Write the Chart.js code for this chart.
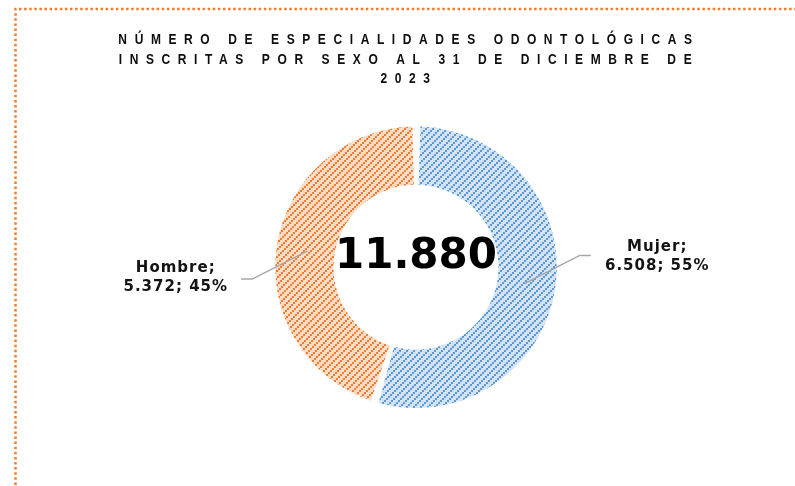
<!DOCTYPE html>
<html>
<head>
<meta charset="utf-8">
<script src="https://cdn.jsdelivr.net/npm/chart.js@4.4.1/dist/chart.umd.min.js"></script>
<style>
html,body{margin:0;padding:0;background:#fff;}
#wrap{width:795px;height:486px;position:relative;}
</style>
</head>
<body>
<div id="wrap"><canvas id="c" width="795" height="486"></canvas></div>
<script>
// ---- data ----
const categories = ['Mujer', 'Hombre'];
const values = [6508, 5372];
const titleLines = [
  'NÚMERO DE ESPECIALIDADES ODONTOLÓGICAS',
  'INSCRITAS POR SEXO AL 31 DE DICIEMBRE DE',
  '2023'
];

// ---- styles ----
const lightColors = ['#d3e3f5', '#fcdcc5'];
const darkColors = ['#5b9bd5', '#ef7d31'];

function fmt(n) {
  return String(n).replace(/\B(?=(\d{3})+(?!\d))/g, '.');
}
function makePattern(light, dark) {
  const c = document.createElement('canvas');
  c.width = 14; c.height = 14;
  const g = c.getContext('2d');
  g.fillStyle = light; g.fillRect(0, 0, 14, 14);
  g.fillStyle = dark;
  for (let y = 0; y < 14; y++) {
    const r = Math.floor(y / 2);
    for (let x = 0; x < 14; x++) {
      const m = (x + 2 * r) % 7;
      if (m === 0 || m === 1) g.fillRect(x, y, 1, 1);
    }
  }
  return g.createPattern(c, 'repeat');
}
const patterns = categories.map((_, i) => makePattern(lightColors[i], darkColors[i]));
const total = values.reduce((a, b) => a + b, 0);

const TITLE_SX = 0.8;

const framePlugin = {
  id: 'frameAndTitle',
  beforeDraw(chart) {
    const ctx = chart.ctx;
    ctx.save();
    ctx.strokeStyle = '#ed7d31';
    ctx.lineWidth = 2.5;
    ctx.setLineDash([2.5, 2.6]);
    ctx.beginPath();
    ctx.moveTo(15.5, 490);
    ctx.lineTo(15.5, 9);
    ctx.lineTo(800, 9);
    ctx.stroke();
    ctx.restore();
    // condensed, letter-spaced title
    const tb = chart.titleBlock;
    const mid = (tb.left + tb.right) / 2;
    ctx.save();
    ctx.translate(mid * (1 - TITLE_SX) - 7, 0);
    ctx.scale(TITLE_SX, 1);
    ctx.letterSpacing = '9.5px';
  },
  beforeDatasetsDraw(chart) {
    chart.ctx.restore();
  },
  afterDraw(chart) {
    const ctx = chart.ctx;
    const meta = chart.getDatasetMeta(0);
    const arc0 = meta.data[0];
    const cx = arc0.x, cy = arc0.y, R = arc0.outerRadius;
    ctx.save();
    ctx.letterSpacing = '0px';
    // center total
    ctx.fillStyle = '#000';
    ctx.font = 'bold 42px "DejaVu Sans"';
    ctx.textAlign = 'center';
    ctx.textBaseline = 'middle';
    ctx.fillText(fmt(total), cx, cy - 0.07 * R);
    // labels
    meta.data.forEach((arc, i) => {
      const mid = (arc.startAngle + arc.endAngle) / 2;
      const rm = (arc.innerRadius + arc.outerRadius) / 2;
      const sx = cx + Math.cos(mid) * rm;
      const sy = cy + Math.sin(mid) * rm;
      const side = Math.cos(mid) >= 0 ? 1 : -1;
      const ex = cx + side * 1.18 * R;
      const ey = cy - side * 0.085 * R;
      const tx = cx + side * 1.26 * R;
      ctx.strokeStyle = '#a6a6a6';
      ctx.lineWidth = 1.5;
      ctx.setLineDash([]);
      ctx.beginPath();
      ctx.moveTo(sx, sy);
      ctx.lineTo(ex, ey);
      ctx.lineTo(tx, ey);
      ctx.stroke();
      const pct = Math.round(values[i] / total * 100);
      const lx = cx + side * 1.735 * R;
      const ly = cy - side * 0.075 * R;
      ctx.fillStyle = '#141414';
      ctx.font = 'bold 15px "DejaVu Sans"';
      ctx.letterSpacing = '1px';
      ctx.textAlign = 'center';
      ctx.textBaseline = 'middle';
      ctx.fillText(categories[i] + ';', lx + 0.5, ly - 9.5);
      ctx.fillText(fmt(values[i]) + '; ' + pct + '%', lx + 0.5, ly + 9.5);
    });
    ctx.restore();
  }
};

new Chart(document.getElementById('c'), {
  type: 'doughnut',
  data: {
    labels: categories,
    datasets: [{
      data: values,
      backgroundColor: patterns,
      borderWidth: 0,
      spacing: 4
    }]
  },
  options: {
    responsive: false,
    animation: false,
    cutout: '58%',
    events: [],
    layout: { padding: { left: 37, right: 0, top: 0, bottom: 78 } },
    plugins: {
      legend: { display: false },
      tooltip: { enabled: false },
      title: {
        display: true,
        text: titleLines,
        color: '#0d0d0d',
        font: { family: '"Liberation Sans", Arial, sans-serif', size: 15, weight: 'bold', lineHeight: 1.3 },
        padding: { top: 30.5, bottom: 37.5 }
      }
    }
  },
  plugins: [framePlugin]
});
</script>
</body>
</html>
